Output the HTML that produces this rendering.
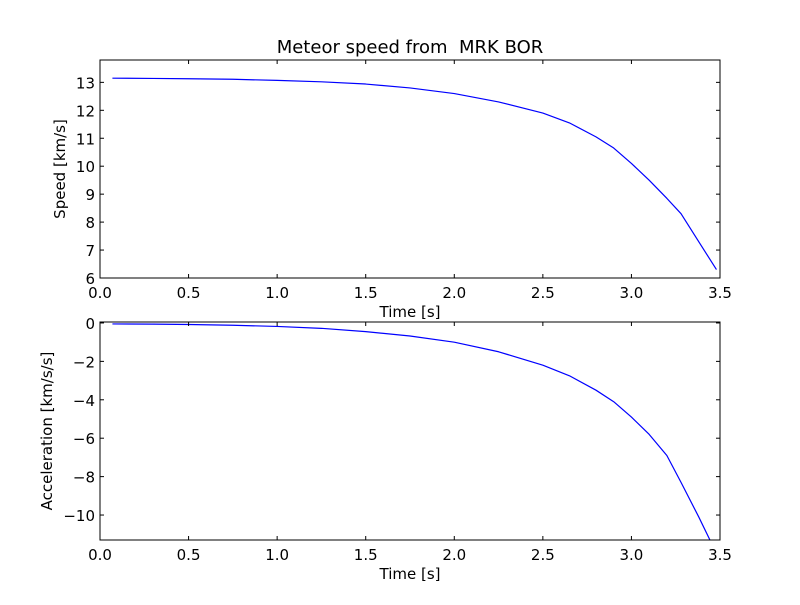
<!DOCTYPE html>
<html><head><meta charset="utf-8"><style>
body{margin:0;background:#fff}
svg text{font-family:"DejaVu Sans","Liberation Sans",sans-serif;font-size:15px;fill:#000;white-space:pre}
</style></head><body>
<svg id="c" width="800" height="600"></svg>
<script>
const times=[0.07,0.3,0.5,0.75,1.0,1.25,1.5,1.75,2.0,2.25,2.5,2.65,2.8,2.9,3.0,3.1,3.2,3.28,3.38,3.48];
const speeds=[13.15,13.14,13.13,13.11,13.07,13.02,12.94,12.8,12.6,12.3,11.9,11.55,11.05,10.65,10.1,9.5,8.85,8.3,7.3,6.3];
const accTimes=[0.07,0.3,0.5,0.75,1.0,1.25,1.5,1.75,2.0,2.25,2.5,2.65,2.8,2.9,3.0,3.1,3.2,3.28,3.38,3.48];
const accels=[-0.05,-0.06,-0.08,-0.12,-0.18,-0.28,-0.45,-0.68,-1.0,-1.5,-2.2,-2.75,-3.5,-4.1,-4.9,-5.8,-6.9,-8.3,-10.1,-12.0];
const xTicks=["0.0","0.5","1.0","1.5","2.0","2.5","3.0","3.5"];
const speedTicks=[6,7,8,9,10,11,12,13];
const accTicks=[0,-2,-4,-6,-8,-10];
const NS="http://www.w3.org/2000/svg";
const svg=document.getElementById('c');
function mk(t,a,p){const e=document.createElementNS(NS,t);for(const k in a)e.setAttribute(k,a[k]);(p||svg).appendChild(e);return e;}
function panel(id,top,bot,ymin,ymax,yt,xs,ys,ylabel){
  const L=100,R=720;
  const g=mk('g',{});
  
  
  const X=v=>L+(v-0)/3.5*(R-L), Y=v=>bot-(v-ymin)/(ymax-ymin)*(bot-top);
  const cp=mk('clipPath',{id:id+'clip'},g);mk('rect',{x:L,y:top,width:R-L,height:bot-top},cp);
  const line=mk('polyline',{points:xs.map((t,i)=>X(t)+','+Y(ys[i])).join(' '),fill:'none',stroke:'#0000ff','stroke-width':1.2,'stroke-linejoin':'round','clip-path':'url(#'+id+'clip)'},g);
  
  
  xTicks.forEach(s=>{const x=X(parseFloat(s));
    mk('line',{x1:x,x2:x,y1:bot,y2:bot-4,stroke:'#000'},g);mk('line',{x1:x,x2:x,y1:top,y2:top+4,stroke:'#000'},g);
    const t=mk('text',{x:x,y:bot+20,'text-anchor':'middle'},g);t.textContent=s;
    
    });
  yt.forEach(v=>{const y=Y(v);
    mk('line',{x1:L,x2:L+4,y1:y,y2:y,stroke:'#000'},g);mk('line',{x1:R,x2:R-4,y1:y,y2:y,stroke:'#000'},g);
    const t=mk('text',{x:L-5,y:y+6,'text-anchor':'end'},g);t.textContent=(v<0?'\u2212'+(-v):v);
    
    });
  mk('rect',{x:L,y:top,width:R-L,height:bot-top,fill:'none',stroke:'#000','stroke-width':1},g);
  const xl=mk('text',{x:410,y:bot+39,'text-anchor':'middle'},g);xl.textContent='Time [s]';
  
  
  const yl=mk('text',{transform:'translate('+(id=='speed'?65:52)+','+((top+bot)/2)+') rotate(-90)','text-anchor':'middle'},g);yl.textContent=ylabel;
  
  
}
panel('speed',60,278,6,13.8,speedTicks,times,speeds,'Speed [km/s]');
panel('accel',322,540,-11.3,0.05,accTicks,accTimes,accels,'Acceleration [km/s/s]');
const ti=mk('text',{x:410,y:53,'text-anchor':'middle'});ti.style.fontSize='18px';ti.textContent='Meteor speed from  MRK BOR';


</script></body></html>
